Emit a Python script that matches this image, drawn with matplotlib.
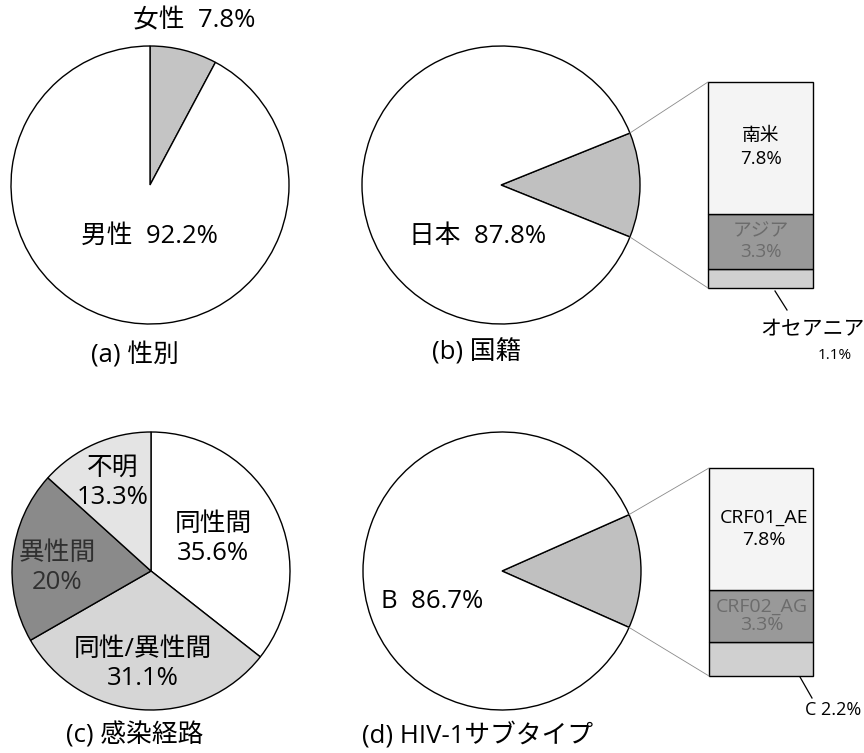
import math
import matplotlib
matplotlib.use("Agg")
import matplotlib.pyplot as plt

plt.rcParams['font.family'] = ['Open Sans', 'Noto Sans CJK JP', 'DejaVu Sans']

# ---- data ----
sex_labels = ['女性', '男性']
sex_pct = [7.8, 92.2]

nat_main_label = '日本'
nat_main_pct = 87.8
nat_bar_labels = ['南米', 'アジア', 'オセアニア']
nat_bar_pct = [7.8, 3.3, 1.1]

route_labels = ['同性間', '同性/異性間', '異性間', '不明']
route_pct = [35.6, 31.1, 20, 13.3]

sub_main_label = 'B'
sub_main_pct = 86.7
sub_bar_labels = ['CRF01_AE', 'CRF02_AG', 'C']
sub_bar_pct = [7.8, 3.3, 2.2]

titles = ['(a) 性別', '(b) 国籍', '(c) 感染経路', '(d) HIV-1サブタイプ']

# ---- layout (pixels, measured from the top) ----
W, H = 864, 753
R = 139
BIG = 18.5
EDGE = dict(edgecolor='black', linewidth=1.0)


def Y(y):
    return H - y


fig = plt.figure(figsize=(W / 100, H / 100), dpi=100)
ax = fig.add_axes([0, 0, 1, 1])

# (a) sex
ax.pie(sex_pct, center=(150, Y(185)), radius=R, startangle=90, counterclock=False,
       colors=['#c4c4c4', 'white'], wedgeprops=EDGE)
ax.text(194, Y(21), f'{sex_labels[0]}  {sex_pct[0]}%', fontsize=BIG, ha='center', va='center')
ax.text(149, Y(236), f'{sex_labels[1]}  {sex_pct[1]}%', fontsize=BIG, ha='center', va='center')


def pie_with_bar(cx, cy, main_pct, bar_pct, bar_x, bar_top, bar_h, bar_w):
    other = sum(bar_pct)
    wedges, _ = ax.pie([other, main_pct], center=(cx, Y(cy)), radius=R,
                       startangle=-other * 3.6 / 2, colors=['#c0c0c0', 'white'],
                       wedgeprops=EDGE)
    # stacked bar, first item on top
    scale = bar_h / other
    bottom = Y(bar_top) - bar_h
    bar_colors = ['#f4f4f4', '#999999', '#d0d0d0']
    centers = []
    for val, col in zip(bar_pct[::-1], bar_colors[::-1]):
        ax.bar(bar_x, val * scale, width=bar_w, bottom=bottom, color=col,
               edgecolor='black', linewidth=1.0, align='edge')
        centers.append(bottom + val * scale / 2)
        bottom += val * scale
    centers = centers[::-1]
    # connector lines from the wedge edges to the bar corners
    w = wedges[0]
    for ang, by in [(w.theta2, Y(bar_top)), (w.theta1, Y(bar_top) - bar_h)]:
        ex = cx + R * math.cos(math.radians(ang))
        ey = Y(cy) + R * math.sin(math.radians(ang))
        ax.plot([ex, bar_x], [ey, by], color='#8a8a8a', linewidth=0.6)
    return centers


# (b) nationality
c_b = pie_with_bar(501, 185, nat_main_pct, nat_bar_pct, 708, 82, 206, 105)
ax.text(478, Y(236), f'{nat_main_label}  {nat_main_pct}%', fontsize=BIG, ha='center', va='center')
ax.text(761, c_b[0], f'{nat_bar_labels[0]}\n{nat_bar_pct[0]}%', fontsize=13.5,
        ha='center', va='center', linespacing=1.35)
ax.text(761, c_b[1], f'{nat_bar_labels[1]}\n{nat_bar_pct[1]}%', fontsize=13.5,
        ha='center', va='center', linespacing=1.2, color='#6c6c6c')
ax.plot([775, 787], [Y(291), Y(310)], color='black', linewidth=0.9)
ax.text(812, Y(330), nat_bar_labels[2], fontsize=15, ha='center', va='center')
ax.text(835, Y(355), f'{nat_bar_pct[2]}%', fontsize=11, ha='center', va='center')

# (c) infection route
ax.pie(route_pct, center=(151, Y(571)), radius=R, startangle=90, counterclock=False,
       colors=['white', '#d6d6d6', '#8a8a8a', '#e4e4e4'], wedgeprops=EDGE)
route_text_pos = [(213, 539), (143, 664), (57, 568), (113, 483)]
route_text_col = ['black', 'black', '#303030', 'black']
for lab, pct, (tx, ty), tc in zip(route_labels, route_pct, route_text_pos, route_text_col):
    ax.text(tx, Y(ty), f'{lab}\n{pct}%', fontsize=BIG, ha='center', va='center',
            linespacing=1.2, color=tc)

# (d) HIV-1 subtype
c_d = pie_with_bar(502, 571, sub_main_pct, sub_bar_pct, 709, 468, 208, 104)
ax.text(432, Y(602), f'{sub_main_label}  {sub_main_pct}%', fontsize=BIG, ha='center', va='center')
ax.text(764, c_d[0], f'{sub_bar_labels[0]}\n{sub_bar_pct[0]}%', fontsize=14,
        ha='center', va='center', linespacing=1.3)
ax.text(762, c_d[1], f'{sub_bar_labels[1]}\n{sub_bar_pct[1]}%', fontsize=14,
        ha='center', va='center', linespacing=1.0, color='#6c6c6c')
ax.plot([800, 812], [Y(677), Y(698)], color='black', linewidth=0.9)
ax.text(833, Y(710), f'{sub_bar_labels[2]} {sub_bar_pct[2]}%', fontsize=13, ha='center', va='center')

# panel titles
for t, (tx, ty) in zip(titles, [(135, 355), (477, 352), (135, 735), (478, 735)]):
    ax.text(tx, Y(ty), t, fontsize=BIG, ha='center', va='center')

ax.set_xlim(0, W)
ax.set_ylim(0, H)
ax.set_aspect('equal')
ax.axis('off')

fig.savefig('out.png', dpi=100)
